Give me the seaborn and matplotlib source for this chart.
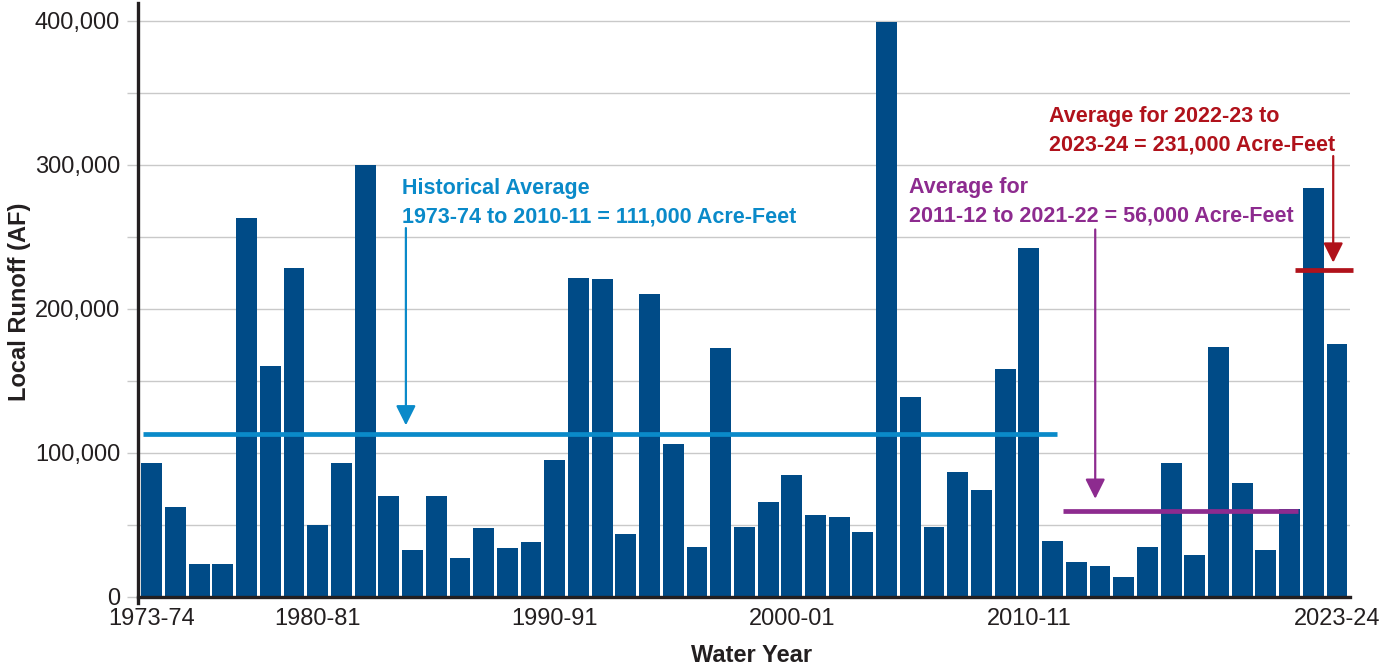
import matplotlib
matplotlib.use("Agg")
import matplotlib.pyplot as plt
import seaborn as sns
from matplotlib.ticker import MultipleLocator, FuncFormatter

# ---------------- data ----------------
water_years = [
    "1973-74", "1974-75", "1975-76", "1976-77", "1977-78", "1978-79", "1979-80",
    "1980-81", "1981-82", "1982-83", "1983-84", "1984-85", "1985-86", "1986-87",
    "1987-88", "1988-89", "1989-90", "1990-91", "1991-92", "1992-93", "1993-94",
    "1994-95", "1995-96", "1996-97", "1997-98", "1998-99", "1999-00", "2000-01",
    "2001-02", "2002-03", "2003-04", "2004-05", "2005-06", "2006-07", "2007-08",
    "2008-09", "2009-10", "2010-11", "2011-12", "2012-13", "2013-14", "2014-15",
    "2015-16", "2016-17", "2017-18", "2018-19", "2019-20", "2020-21", "2021-22",
    "2022-23", "2023-24",
]
runoff_af = [
    93000, 62000, 23000, 22500, 263000, 160000, 228000,
    50000, 93000, 300000, 70000, 32500, 70000, 27000,
    48000, 34000, 38000, 95000, 221000, 220500, 43500,
    210500, 106000, 34500, 172500, 48500, 65500, 84500,
    56500, 55000, 45000, 399000, 139000, 48500, 86500,
    74000, 158000, 242000, 38500, 24000, 21500, 14000,
    34500, 92500, 29000, 173500, 79000, 32500, 61000,
    284000, 175500,
]
shown_ticks = ["1973-74", "1980-81", "1990-91", "2000-01", "2010-11", "2023-24"]

# average lines as drawn (value, first year, last year)
hist_avg = 113000
recent_avg = 59300
latest_avg = 227000

hist_text = ["Historical Average", "1973-74 to 2010-11 = 111,000 Acre-Feet"]
recent_text = ["Average for", "2011-12 to 2021-22 = 56,000 Acre-Feet"]
latest_text = ["Average for 2022-23 to", "2023-24 = 231,000 Acre-Feet"]

# ---------------- style ----------------
sns.set_theme(style="white")
plt.rcParams["font.family"] = ["Liberation Sans", "DejaVu Sans"]

DARK = "#231f20"
BAR = "#004b87"
BLUE = "#0a8ac9"
PURPLE = "#8d2b8f"
RED = "#b0121b"
GRID = "#c9c9c9"

fig = plt.figure(figsize=(13.98, 6.70), dpi=100)
ax = fig.add_axes([0.0984, 0.1094, 0.8673, 0.8866])

sns.barplot(x=water_years, y=runoff_af, order=water_years, color=BAR,
            saturation=1, width=0.88, linewidth=0, ax=ax)

ax.set_xlim(-0.6, 50.55)
ax.set_ylim(0, 412500)

# grid / ticks
ax.yaxis.set_major_locator(MultipleLocator(100000))
ax.yaxis.set_minor_locator(MultipleLocator(50000))
ax.yaxis.set_major_formatter(FuncFormatter(lambda v, p: f"{int(v):,}"))
ax.grid(axis="y", which="both", color=GRID, linewidth=1.0, zorder=0)
ax.set_axisbelow(True)
ax.tick_params(axis="y", which="both", length=8, width=1.0, color=GRID,
               labelsize=17, labelcolor=DARK, pad=4.5, left=True)
ax.tick_params(axis="y", which="minor", labelleft=False)
ax.yaxis.get_major_ticks()[0].tick1line.set_color(DARK)
ax.yaxis.get_major_ticks()[0].tick1line.set_markeredgewidth(2.4)

tick_pos = [water_years.index(t) for t in shown_ticks]
ax.set_xticks(tick_pos)
ax.set_xticklabels(shown_ticks)
ax.tick_params(axis="x", length=0, labelsize=17, labelcolor=DARK, pad=8)

for s in ["top", "right"]:
    ax.spines[s].set_visible(False)
for s in ["left", "bottom"]:
    ax.spines[s].set_color(DARK)
    ax.spines[s].set_linewidth(2.4)
ax.spines["left"].set_bounds(-4500, 412500)

ax.set_xlabel("")
ax.set_ylabel("")
fig.text(20 / 1398, 1 - 302 / 670, "Local Runoff (AF)", rotation=90,
         ha="center", va="center", fontsize=17, fontweight="bold", color=DARK)
fig.text(752 / 1398, 1 - 655 / 670, "Water Year", ha="center", va="center",
         fontsize=17, fontweight="bold", color=DARK)

# average lines
ax.plot([-0.37, 38.18], [hist_avg, hist_avg], color=BLUE, lw=3.4,
        solid_capstyle="butt", zorder=3)
ax.plot([38.45, 48.36], [recent_avg, recent_avg], color=PURPLE, lw=3.4,
        solid_capstyle="butt", zorder=3)
ax.plot([48.24, 50.68], [latest_avg, latest_avg], color=RED, lw=3.4,
        solid_capstyle="butt", zorder=3, clip_on=False)

# arrows
arrow_style = "-|>,head_length=0.6,head_width=0.3"
for x, y0, y1, c in [(10.72, 256000, 119000, BLUE),
                     (39.80, 255000, 68000, PURPLE),
                     (49.84, 306000, 232000, RED)]:
    ax.annotate("", xy=(x, y1), xytext=(x, y0),
                arrowprops=dict(arrowstyle=arrow_style, color=c, lw=1.6,
                                mutation_scale=20, shrinkA=0, shrinkB=0),
                zorder=4, annotation_clip=False)

# annotation texts
def two_lines(x, ys, lines, color):
    for y, t in zip(ys, lines):
        ax.text(x, y, t, color=color, fontsize=15.5, fontweight="bold",
                ha="left", va="baseline", zorder=5)

two_lines(10.57, [279700, 259700], hist_text, BLUE)
two_lines(31.95, [280000, 260400], recent_text, PURPLE)
two_lines(37.86, [329900, 309700], latest_text, RED)

fig.savefig("out.png", dpi=100)
